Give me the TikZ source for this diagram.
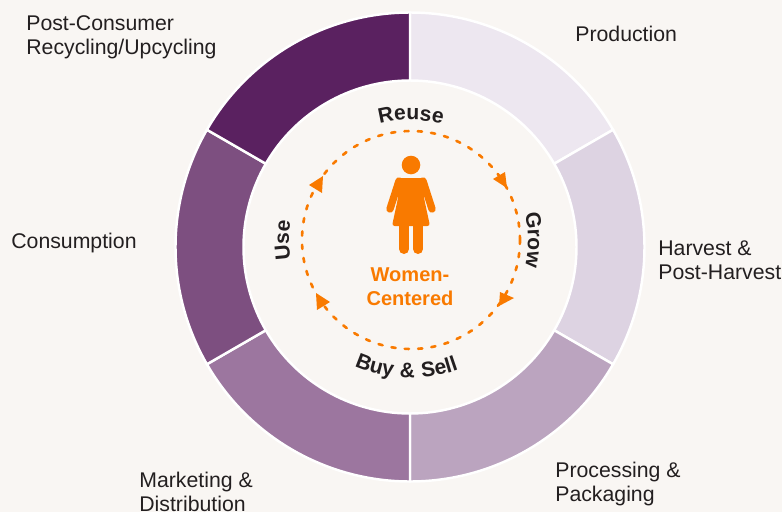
\documentclass[tikz,border=0pt]{standalone}
\usepackage{fontspec}
\setmainfont{Liberation Sans}
\newfontfamily\widefont[LetterSpace=6]{Liberation Sans}
\usetikzlibrary{decorations.text}

\definecolor{paper}{HTML}{F9F6F3}
\definecolor{womanorange}{HTML}{F97A00}
\definecolor{inktext}{HTML}{231F20}
\definecolor{plumA}{HTML}{EDE7F0}
\definecolor{plumB}{HTML}{DDD3E2}
\definecolor{plumC}{HTML}{BBA4BF}
\definecolor{plumD}{HTML}{9C769F}
\definecolor{plumE}{HTML}{7D4F80}
\definecolor{plumF}{HTML}{5A2160}

\newcommand{\labelfont}{\fontsize{12.1}{13.7}\selectfont}
\newcommand{\loopfont}{\fontsize{12}{12}\selectfont\bfseries}

\tikzset{
  stage/.style={anchor=west,align=left,text=inktext,font=\labelfont,inner sep=0pt},
  wedge/.style={draw=white,line width=1.4pt},
  bent/.style={decorate,decoration={text along path,text align=center,text={|\loopfont\color{inktext}|#1}}},
  bentwide/.style={decorate,decoration={text along path,text align=center,text={|\widefont\loopfont\color{inktext}|#1}}},
  limb/.style={draw=womanorange,line cap=round},
  tip/.style={fill=womanorange}
}

\begin{document}
\begin{tikzpicture}[x=0.02cm,y=0.02cm]
  \fill[paper] (0,0) rectangle (782,512);
  \useasboundingbox (0,0) rectangle (782,512);
  \coordinate (ring) at (410,265);
  \coordinate (loop) at (411,272);

  % ring of six stages
  \foreach \a/\c in {30/plumA,-30/plumB,-90/plumC,-150/plumD,150/plumE,90/plumF}
    \draw[wedge,fill=\c] (ring) ++(\a:166.5) -- ++(\a:68) arc (\a:\a+60:234.5) -- ++(\a+240:68) arc (\a+60:\a:166.5) -- cycle;

  % dashed loop and its heads
  \draw[womanorange,line width=1.5pt,line cap=round,dash pattern=on 2.4pt off 5.2pt] (loop) circle (109);
  \fill[tip] (493,333) -- (505,340) -- (507,324) -- cycle;
  \fill[tip] (309,327) -- (323,336) -- (322,319) -- cycle;
  \fill[tip] (500,220) -- (514,214) -- (499,206) -- cycle;
  \fill[tip] (316,219) -- (330,210) -- (317,202) -- cycle;

  % loop words
  \path[bent=Reuse] (loop) ++(130:120) arc (130:50:120);
  \path[bent=Grow] (loop) ++(40:117) arc (40:-40:117);
  \path[bentwide=Buy {\&} Sell] (loop) ++(228:138) arc (228:308:138);
  \path[bentwide=Use] (loop) ++(220:122) arc (220:140:122);

  % woman
  \fill[womanorange] (411,347) circle (9.3);
  \fill[womanorange,rounded corners=1.5] (398,334) -- (424,334) -- (424,314) -- (430,286) -- (392,286) -- (398,314) -- cycle;
  \draw[limb,line width=4.2pt] (399,331) -- (390,303);
  \draw[limb,line width=4.2pt] (423,331) -- (432,303);
  \draw[limb,line width=5.7pt] (404,288) -- (404,263);
  \draw[limb,line width=5.7pt] (418,288) -- (418,263);

  \node (center) at (410,225) [align=center,text=womanorange,inner sep=0pt,
    font=\fontsize{11.4}{13.7}\selectfont\bfseries] {Women-\\Centered};

  % stage names
  \node (production) at (575,478) [stage] {Production};
  \node (harvest) at (658,252) [stage] {Harvest \&\\Post-Harvest};
  \node (processing) at (555,28) [stage] {Processing \&\\Packaging};
  \node (marketing) at (139,20) [stage] {Marketing \&\\Distribution};
  \node (consumption) at (11,269) [stage] {Consumption};
  \node (recycling) at (26,475) [stage] {Post-Consumer\\Recycling/Upcycling};
\end{tikzpicture}
\end{document}
